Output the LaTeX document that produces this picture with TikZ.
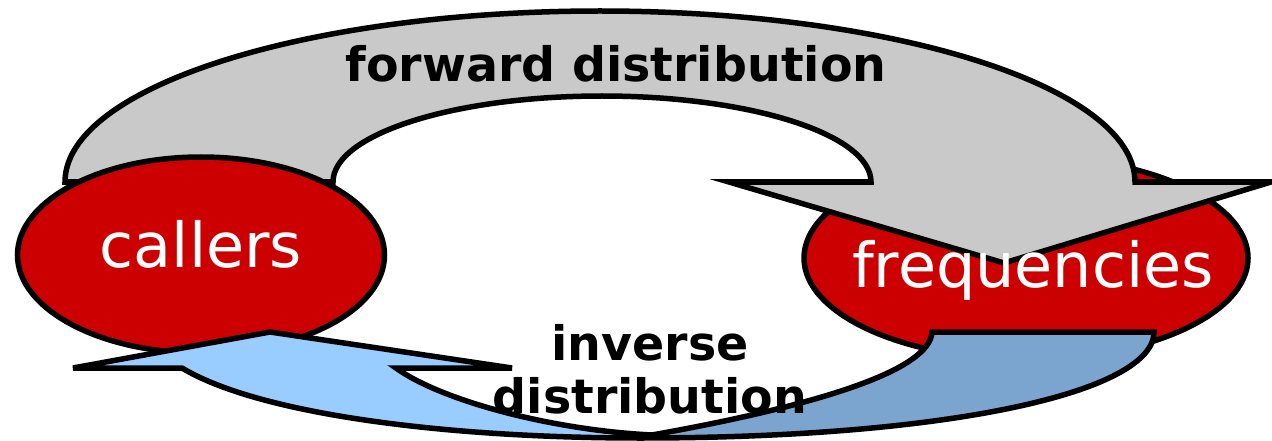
\documentclass[tikz,border=0pt]{standalone}
\usepackage{fontspec}
\setmainfont{DejaVu Sans}
\usetikzlibrary{shapes.geometric}
\definecolor{cred}{HTML}{CC0000}
\definecolor{cgray}{HTML}{C9C9C9}
\definecolor{clight}{HTML}{99CCFF}
\definecolor{cdark}{HTML}{7BA5CF}
\def\BlueArrowPath{(932,332) -- (1154,332)
  .. controls (1154,392) and (950,438) .. (640,438)
  .. controls (450,438) and (260,415) .. (182,368)
  -- (73,368) -- (270,332) -- (512,368) -- (396,368)
  .. controls (440,400) and (550,430) .. (652,435)
  .. controls (820,405) and (930,370) .. cycle}
\begin{document}
\begin{tikzpicture}[x=1pt,y=-1pt,
  outline/.style={draw=black,line width=5.5pt,line join=miter},
  blob/.style={ellipse,outline,fill=cred,inner sep=0pt},
  celltext/.style={text=white,font=\fontsize{62}{70}\selectfont,anchor=base,inner sep=0pt},
  flowtext/.style={font=\bfseries\fontsize{47.5}{53}\selectfont,anchor=base,inner sep=0pt}]
\useasboundingbox (0,0) rectangle (1272,441);
% frequencies ellipse (under the grey arrow)
\node[blob,minimum width=444pt,minimum height=203pt] (freq) at (1026,258) {};
% forward distribution arrow
\draw[outline,fill=cgray] (65,182) arc[start angle=180,end angle=360,x radius=535,y radius=171]
  -- (1271,182) -- (1004,263) -- (729,182) -- (871,182)
  arc[start angle=0,end angle=-180,x radius=269,y radius=86] -- cycle;
% callers ellipse
\node[blob,minimum width=367pt,minimum height=196pt] (call) at (201,255) {};
% inverse distribution arrow
\fill[clight] \BlueArrowPath;
\begin{scope}
  \clip (652,300) rectangle (1272,445);
  \fill[cdark] \BlueArrowPath;
\end{scope}
\draw[outline] \BlueArrowPath;
% texts
\node[celltext] (calltext) at (201,267) {callers};
\node[celltext] (freqtext) at (1033,287) {frequencies};
\node[flowtext] (fwd) at (616,82) {forward distribution};
\node[flowtext] (inv1) at (650,360) {inverse};
\node[flowtext] (inv2) at (650,413) {distribution};
\end{tikzpicture}
\end{document}
